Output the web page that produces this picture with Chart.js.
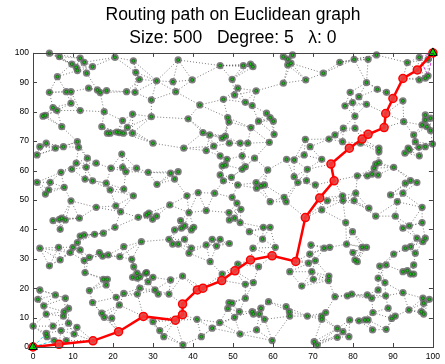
<!DOCTYPE html>
<html>
<head>
<meta charset="utf-8">
<script src="https://cdn.jsdelivr.net/npm/chart.js@4/dist/chart.umd.min.js"></script>
<style>
  html, body { margin: 0; padding: 0; background: #fff; }
  #wrap { width: 445px; height: 364px; }
</style>
</head>
<body>
<div id="wrap"><canvas id="c" width="445" height="364"></canvas></div>
<script>
// Graph nodes [x, y]
const nodes = [
  [4.1,99.9],[6.6,98.7],[11.8,98.2],[12.8,96.8],[14.9,95.3],[9.7,96.2],[10.8,95.1],[11.1,94.0],[13.4,93.1],[20.5,98.5],[25.1,97.3],[25.7,93.4],[26.6,91.0],[6.1,91.9],[4.1,86.6],[8.3,86.8],[9.5,86.8],[13.9,88.0],[16.1,87.4],[16.8,86.5],[18.4,87.2],[23.4,86.8],[25.5,86.6],[9.5,82.9],[5.0,81.4],[6.0,80.4],[11.8,80.4],[17.8,80.0],[24.9,79.2],[2.5,78.5],[3.1,78.8],[7.2,74.9],[17.2,74.9],[22.4,77.0],[23.6,74.7],[18.6,72.7],[19.3,72.7],[20.9,73.1],[21.6,72.9],[22.6,72.7],[24.9,72.7],[3.3,69.3],[1.7,68.1],[7.6,68.1],[11.1,69.8],[11.4,67.9],[5.6,67.6],
  [36.3,97.6],[46.8,95.7],[52.6,95.7],[54.4,96.2],[55.0,95.3],[62.6,98.7],[63.7,97.9],[63.7,95.9],[30.9,90.5],[35.0,90.2],[39.8,90.8],[35.7,86.8],[49.8,91.0],[51.2,88.0],[55.8,87.1],[62.6,89.7],[29.6,84.0],[41.7,82.3],[47.6,84.2],[50.4,85.7],[53.1,83.2],[54.8,82.1],[29.6,78.3],[38.8,77.6],[48.7,78.0],[49.0,76.5],[58.4,79.5],[59.3,78.0],[60.1,76.8],[56.4,76.8],[42.5,72.9],[44.2,72.1],[47.3,71.0],[48.1,71.7],[45.2,68.3],[49.1,69.3],[51.8,69.3],[53.7,69.3],[54.5,74.6],[60.3,72.3],[59.1,69.6],[30.0,69.3],[37.7,67.6],
  [64.9,99.3],[64.5,96.5],[68.2,90.8],[72.6,93.1],[76.7,96.8],[80.3,97.8],[83.8,97.8],[85.9,99.3],[93.6,96.7],[96.6,98.5],[98.8,97.8],[96.6,90.8],[98.1,91.4],[98.8,92.2],[83.4,89.9],[79.3,86.6],[86.1,87.6],[88.4,86.6],[81.5,85.1],[79.9,83.1],[78.0,82.0],[83.4,82.5],[92.5,83.7],[80.5,78.5],[77.6,74.4],[80.5,74.4],[75.5,72.1],[74.0,70.7],[77.4,69.8],[68.1,70.6],[69.3,68.1],[92.7,76.6],[98.1,78.9],[99.4,77.8],[97.3,75.5],[98.5,74.9],[99.4,73.6],[95.2,72.1],[95.6,69.8],[98.1,68.1],[99.9,69.0],[93.8,67.6],[86.5,67.6],[98.1,77.2],
  [1.0,65.3],[13.6,64.2],[10.8,62.5],[13.3,61.1],[15.8,62.5],[9.7,60.5],[7.0,59.4],[19.5,60.8],[22.2,65.6],[22.4,61.1],[23.2,59.6],[25.9,60.8],[28.8,59.4],[1.0,56.0],[4.3,56.0],[3.9,53.4],[3.1,52.0],[7.8,54.3],[13.0,57.1],[14.9,56.5],[18.3,55.7],[19.3,53.4],[22.7,53.7],[25.1,51.4],[9.5,49.7],[15.8,47.5],[20.7,48.0],[21.9,46.0],[26.3,44.1],[28.4,44.9],[5.0,43.0],[6.6,43.4],[7.2,43.8],[8.1,43.2],[11.6,43.8],[6.8,40.0],[20.5,40.7],[11.8,37.7],[12.8,38.1],[15.4,38.3],[17.6,38.7],[11.1,35.5],[10.0,33.9],[6.4,33.9],[1.7,33.6],[22.7,34.1],[27.1,35.8],
  [43.3,66.8],[46.8,65.0],[48.5,63.8],[47.3,61.6],[48.1,61.9],[52.3,65.0],[52.3,60.4],[53.1,61.3],[55.4,64.2],[58.7,60.2],[63.4,63.8],[34.4,59.1],[36.3,59.6],[35.4,57.1],[31.0,55.3],[46.8,58.5],[47.6,56.5],[49.6,57.7],[51.2,55.1],[55.8,55.9],[55.9,54.0],[57.0,54.8],[57.9,55.1],[59.3,49.4],[62.8,50.9],[63.3,49.4],[38.5,51.4],[41.3,52.5],[45.4,52.3],[49.8,50.9],[51.0,48.9],[52.0,46.8],[34.2,48.3],[39.0,45.7],[43.3,46.4],[49.0,45.7],[49.1,43.2],[50.4,43.8],[51.8,42.3],[29.0,45.5],[29.9,43.4],[30.9,44.5],[36.9,43.0],[35.4,39.8],[37.1,40.4],[37.9,41.2],[39.6,39.8],[40.2,40.7],[54.1,39.2],[57.6,40.7],[59.3,40.7],[57.4,36.7],[34.0,36.6],[34.9,35.0],[36.3,35.0],[37.9,36.6],[39.6,33.6],[44.8,36.6],[46.8,36.6],[43.3,34.7],[45.9,34.3],[49.1,35.2],[55.0,33.6],[60.6,33.9],
  [81.9,69.3],[65.3,63.6],[67.8,65.3],[68.6,60.4],[72.2,63.8],[86.5,66.4],[93.0,65.9],[94.1,67.0],[96.5,67.9],[96.6,65.0],[85.7,62.2],[86.5,62.7],[85.3,60.8],[83.6,58.2],[84.8,58.8],[86.3,58.5],[81.1,58.2],[90.2,61.1],[65.3,57.9],[66.2,55.9],[70.6,55.1],[68.4,56.6],[73.6,49.7],[77.4,51.4],[77.5,49.8],[80.3,49.8],[80.7,52.3],[84.0,47.2],[72.2,46.6],[89.4,51.7],[91.1,49.4],[92.5,52.3],[93.1,55.7],[94.4,56.6],[96.0,55.9],[97.3,47.5],[90.6,44.5],[85.7,44.5],[78.2,42.3],[97.3,42.3],[92.5,40.4],[94.1,41.2],[79.9,39.2],[96.0,37.0],[98.1,37.0],[69.5,34.7],[72.8,33.6],[74.2,33.9],[78.4,35.0],[82.3,33.9],[83.4,33.9],[93.1,33.6],[94.4,34.1],[97.5,35.8],
  [4.1,27.6],[6.8,29.6],[9.3,32.1],[11.8,33.0],[12.8,29.4],[14.1,30.5],[16.6,32.1],[18.8,31.3],[17.4,30.9],[21.7,30.7],[24.7,29.8],[25.2,27.3],[28.2,25.1],[26.0,25.1],[24.9,23.7],[26.1,23.4],[26.7,23.9],[28.8,22.2],[13.0,25.3],[17.6,23.0],[18.6,23.0],[18.3,21.1],[14.1,19.2],[22.7,18.2],[26.7,20.0],[26.1,18.0],[20.8,16.9],[14.9,15.1],[21.6,14.3],[17.2,11.5],[17.8,10.1],[19.7,9.8],[1.7,19.4],[1.2,16.2],[5.6,17.7],[8.1,16.6],[2.7,14.0],[8.9,13.1],[7.8,12.0],[3.3,11.2],[7.6,10.5],[5.0,7.1],[8.9,8.1],[11.0,6.7],[0.0,7.1],[3.3,4.6],[3.5,3.5],[7.0,5.6],[10.3,4.4],[5.3,2.2],[8.3,2.2],
  [39.0,31.9],[28.4,25.3],[30.0,23.7],[30.5,19.4],[31.3,18.0],[34.4,22.8],[34.0,18.0],[37.4,24.1],[44.3,29.0],[47.3,24.8],[51.2,28.2],[53.1,21.3],[55.1,21.9],[56.4,27.3],[53.1,16.6],[49.0,15.1],[49.8,14.9],[48.7,13.1],[51.6,12.0],[50.4,10.1],[54.8,12.0],[55.1,11.2],[56.6,11.2],[57.9,9.4],[57.0,13.2],[58.9,15.4],[63.3,13.7],[46.7,8.3],[44.8,6.4],[41.0,9.4],[55.9,5.8],[51.8,4.4],[59.8,2.2],[42.1,3.5],[37.5,0.7],[32.7,3.5],[31.7,5.6],[30.0,8.6],
  [69.2,31.6],[68.9,28.5],[70.6,29.4],[80.0,32.1],[80.5,29.6],[81.1,29.0],[86.7,27.5],[88.3,27.9],[90.2,31.6],[95.6,31.9],[95.2,27.9],[92.5,25.6],[93.6,26.0],[94.4,24.8],[95.2,24.8],[64.2,25.6],[69.7,25.6],[74.0,24.1],[73.9,22.6],[70.1,23.0],[67.2,20.7],[86.3,23.4],[88.0,21.9],[86.3,19.4],[92.5,18.5],[75.5,17.1],[78.6,17.4],[79.7,18.0],[83.6,17.7],[84.7,16.6],[88.2,17.4],[97.5,16.6],[99.1,16.2],[97.7,14.9],[97.1,12.0],[97.7,11.2],[94.0,12.6],[88.8,13.2],[90.6,10.5],[89.7,9.7],[85.0,11.7],[83.8,9.2],[83.0,9.2],[81.5,8.9],[79.2,9.2],[73.2,11.7],[72.2,10.5],[72.2,9.4],[68.6,10.5],[84.9,5.8],[88.3,6.0],[76.1,6.3],[77.5,5.2],[79.0,3.5],[76.1,3.3],[70.3,1.8],[71.1,0.7],[64.1,12.0],[64.2,10.5]
];

// Route from source (0,0) to target (100,100)
const routePath = [
  [0,0],[6.5,0.9],[15.0,2.1],[21.4,5.2],[27.6,10.4],[35.6,9.1],[37.4,11.0],[37.4,14.6],[41.1,19.4],[42.5,20.0],
  [47.2,22.6],[50.5,25.9],[54.4,29.6],[59.8,31.0],[65.7,29.1],[68.1,44.0],[71.7,50.7],[75.3,56.5],[74.5,62.2],
  [79.1,67.6],[82.3,70.7],[83.8,72.3],[87.8,74.6],[88.2,79.4],[90.0,84.5],[92.5,91.3],[96.1,94.2],[100,100]
];
const endpoints = [[0,0],[100,100]];
// Last-hop candidate links near the endpoints
const targetLinks = [[100,100],[96.6,98.5],[98.8,92.2],[100,100]];
const sourceLinks = [[3.3,4.6],[0,0],[5.3,2.2]];

const axisTicks = [0,10,20,30,40,50,60,70,80,90,100];
const DEGREE_NEIGHBOURS = 4;

const allNodes = nodes.concat(routePath.slice(1, -1));
const toXY = p => ({ x: p[0], y: p[1] });

// Undirected edges: each node linked to its nearest neighbours
function buildEdges(pts, k) {
  const seen = new Set();
  const segs = [];
  pts.forEach((p, i) => {
    const near = pts.map((q, j) => [j, (q[0]-p[0])**2 + (q[1]-p[1])**2])
      .filter(d => d[0] !== i).sort((a, b) => a[1] - b[1]).slice(0, k);
    near.forEach(([j]) => {
      const key = i < j ? i + '-' + j : j + '-' + i;
      if (seen.has(key)) return;
      seen.add(key);
      segs.push({ x: p[0], y: p[1] }, { x: pts[j][0], y: pts[j][1] }, { x: p[0], y: null });
    });
  });
  return segs;
}

const boxAndTicks = {
  id: 'boxAndTicks',
  afterDatasetsDraw(chart) {
    const { ctx, chartArea: a, scales: { x, y } } = chart;
    ctx.save();
    ctx.strokeStyle = '#444';
    ctx.lineWidth = 1;
    ctx.strokeRect(Math.round(a.left) + 0.5, Math.round(a.top) + 0.5,
                   Math.round(a.right - a.left), Math.round(a.bottom - a.top));
    const len = 4;
    ctx.beginPath();
    axisTicks.forEach(t => {
      const px = Math.round(x.getPixelForValue(t)) + 0.5;
      ctx.moveTo(px, a.bottom); ctx.lineTo(px, a.bottom - len);
      ctx.moveTo(px, a.top); ctx.lineTo(px, a.top + len);
      const py = Math.round(y.getPixelForValue(t)) + 0.5;
      ctx.moveTo(a.left, py); ctx.lineTo(a.left + len, py);
      ctx.moveTo(a.right, py); ctx.lineTo(a.right - len, py);
    });
    ctx.stroke();
    ctx.restore();
  }
};

const tickFont = { family: 'Liberation Sans, Arial, sans-serif', size: 8.5 };
const hiddenGrid = { display: false, drawTicks: false, tickLength: 0 };

new Chart(document.getElementById('c'), {
  type: 'scatter',
  data: {
    datasets: [
      { // endpoints
        data: endpoints.map(toXY), pointStyle: 'triangle', pointRadius: 5,
        backgroundColor: '#00e000', borderColor: '#000', borderWidth: 1, clip: false, order: 0
      },
      { // route
        type: 'line', data: routePath.map(toXY), borderColor: '#ff0000', borderWidth: 2.5,
        pointRadius: 4, pointBackgroundColor: 'rgba(255,70,70,0.7)', pointBorderColor: '#ff0000',
        pointBorderWidth: 1.5, fill: false, tension: 0, clip: false, order: 1
      },
      { // node centres
        data: allNodes.map(toXY), pointRadius: 1.5, backgroundColor: '#10c010',
        borderColor: '#1a4a1a', borderWidth: 0.6, clip: false, order: 2
      },
      { // node discs
        data: allNodes.map(toXY), pointRadius: 3.6, backgroundColor: 'rgba(105,105,105,0.85)',
        borderWidth: 0, clip: false, order: 3
      },
      { // candidate links at target
        type: 'line', data: targetLinks.map(toXY), borderColor: '#e040e0', borderWidth: 1,
        borderDash: [3, 2], pointRadius: 0, fill: false, order: 4
      },
      { // candidate links at source
        type: 'line', data: sourceLinks.map(toXY), borderColor: '#30d0e0', borderWidth: 1,
        borderDash: [3, 2], pointRadius: 0, fill: false, order: 5
      },
      { // graph edges
        type: 'line', data: buildEdges(allNodes, DEGREE_NEIGHBOURS), borderColor: 'rgba(70,70,70,0.7)',
        borderWidth: 1, borderDash: [1, 2], pointRadius: 0, spanGaps: false, fill: false, order: 6
      }
    ]
  },
  options: {
    responsive: false,
    animation: false,
    events: [],
    layout: { padding: { left: 0, right: 10, top: 0, bottom: 0 } },
    plugins: {
      legend: { display: false },
      tooltip: { enabled: false },
      title: {
        display: true,
        fullSize: false,
        text: ['Routing path on Euclidean graph', 'Size: 500   Degree: 5   \u03bb: 0'],
        color: '#000',
        font: { family: 'Liberation Sans, Arial, sans-serif', size: 17.5, weight: 'normal', lineHeight: 1.34 },
        padding: { top: 3, bottom: 3 }
      }
    },
    scales: {
      x: {
        type: 'linear', min: 0, max: 100,
        afterBuildTicks: s => { s.ticks = axisTicks.map(v => ({ value: v })); },
        afterFit: s => { s.height = 17; },
        grid: hiddenGrid, border: { display: false },
        ticks: { color: '#000', font: tickFont, padding: 5, maxRotation: 0 }
      },
      y: {
        type: 'linear', min: 0, max: 100,
        afterBuildTicks: s => { s.ticks = axisTicks.map(v => ({ value: v })); },
        afterFit: s => { s.width = 33; },
        grid: hiddenGrid, border: { display: false },
        ticks: { color: '#000', font: tickFont, padding: 4 }
      }
    }
  },
  plugins: [boxAndTicks]
});
</script>
</body>
</html>
